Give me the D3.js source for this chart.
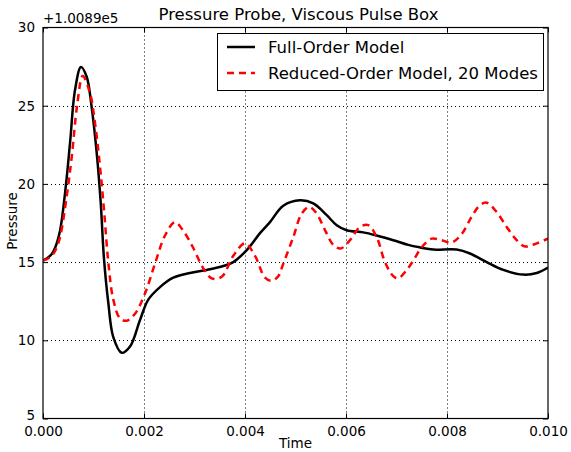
<!DOCTYPE html>
<html><head><meta charset="utf-8">
<script src="https://cdn.jsdelivr.net/npm/d3@7"></script>
<style>
body{margin:0;background:#fff;}
text{font-family:"DejaVu Sans",sans-serif;fill:#000;}
</style></head><body>
<svg id="c" width="571" height="452"></svg>
<script>
const title = "Pressure Probe, Viscous Pulse Box";
const xLabel = "Time";
const yLabel = "Pressure";
const yOffsetLabel = "+1.0089e5";
const xTicks = [0, 0.002, 0.004, 0.006, 0.008, 0.010];
const xTickLabels = ["0.000","0.002","0.004","0.006","0.008","0.010"];
const yTicks = [5, 10, 15, 20, 25, 30];
const seriesNames = ["Full-Order Model", "Reduced-Order Model, 20 Modes"];

const fullTime = [0,0.0001,0.00017,0.000238,0.000337,0.000436,0.000535,0.000634,0.000752,0.000865,0.000964,0.001063,0.001143,0.001208,0.001293,0.001392,0.001558,0.001723,0.001921,0.002085,0.002317,0.00258,0.002911,0.003242,0.00357,0.003768,0.004034,0.004297,0.004495,0.004758,0.005089,0.005352,0.005618,0.005816,0.006014,0.006343,0.006608,0.006937,0.007234,0.007465,0.007729,0.008192,0.008455,0.008786,0.009115,0.009511,0.009776,0.01];
const fullPressure = [15.1,15.3,15.5,15.9,17.0,19.4,22.6,26.0,27.48,26.85,24.9,22.0,18.8,15.2,12.4,10.2,9.2,9.6,11.3,12.6,13.4,14.0,14.3,14.5,14.75,15.0,15.77,16.85,17.56,18.6,18.95,18.75,18.0,17.36,17.04,16.9,16.7,16.4,16.1,15.94,15.8,15.8,15.55,15.0,14.5,14.2,14.3,14.65];

const romTime = [0,0.000139,0.000238,0.000337,0.000469,0.000568,0.000679,0.000786,0.000931,0.00103,0.001129,0.001214,0.001293,0.001392,0.001525,0.001657,0.001822,0.00202,0.002218,0.002416,0.002614,0.002778,0.002976,0.003174,0.003341,0.003539,0.003768,0.004,0.004198,0.004396,0.004529,0.004659,0.004758,0.004956,0.005123,0.005273,0.00542,0.005584,0.005749,0.005895,0.006079,0.006277,0.006442,0.006608,0.006772,0.006937,0.007036,0.007202,0.007333,0.007499,0.007697,0.007895,0.008093,0.008291,0.008489,0.008653,0.008786,0.008984,0.009182,0.00938,0.009545,0.009776,0.01];
const romPressure = [15.1,15.3,15.7,16.6,19.2,21.7,25.1,26.9,25.8,23.9,21.1,18.1,15.0,12.6,11.4,11.25,11.7,13.0,14.9,16.7,17.55,17.0,15.9,14.6,13.96,14.06,15.4,16.2,15.4,14.0,13.8,14.1,14.9,16.6,18.1,18.53,18.1,17.05,16.1,15.87,16.4,17.25,17.36,16.6,15.0,14.1,13.96,14.5,15.1,15.95,16.5,16.4,16.25,16.8,17.9,18.64,18.8,18.2,17.25,16.4,16.0,16.2,16.5];

const svg = d3.select("#c");
const m = {left:43, right:23, top:27.5, bottom:33.5};
const W = 571, H = 452;
const iw = W - m.left - m.right, ih = H - m.top - m.bottom;
const x = d3.scaleLinear().domain([0, 0.01]).range([m.left, m.left + iw]);
const y = d3.scaleLinear().domain([5, 30]).range([m.top + ih, m.top]);

const g = svg.append("g");
g.selectAll(".vg").data(xTicks.slice(1, -1)).join("line")
  .attr("x1", d => Math.round(x(d)) + 0.5).attr("x2", d => Math.round(x(d)) + 0.5)
  .attr("y1", m.top).attr("y2", m.top + ih)
  .attr("stroke", "#000").attr("stroke-width", 1).attr("stroke-dasharray", "1,3");
g.selectAll(".hg").data(yTicks.slice(1, -1)).join("line")
  .attr("y1", d => Math.round(y(d)) + 0.5).attr("y2", d => Math.round(y(d)) + 0.5)
  .attr("x1", m.left).attr("x2", m.left + iw)
  .attr("stroke", "#000").attr("stroke-width", 1).attr("stroke-dasharray", "1,3");

svg.append("clipPath").attr("id", "clip").append("rect")
  .attr("x", m.left).attr("y", m.top).attr("width", iw).attr("height", ih);

const line = d3.line().curve(d3.curveCatmullRom.alpha(0.5)).x(d => x(d[0])).y(d => y(d[1]));
const fullData = fullTime.map((t, i) => [t, fullPressure[i]]);
const romData = romTime.map((t, i) => [t, romPressure[i]]);

svg.append("path").attr("clip-path", "url(#clip)").datum(fullData).attr("d", line)
  .attr("fill", "none").attr("stroke", "#000").attr("stroke-width", 2.5);
svg.append("path").attr("clip-path", "url(#clip)").datum(romData).attr("d", line)
  .attr("fill", "none").attr("stroke", "#ff0000").attr("stroke-width", 2.5).attr("stroke-dasharray", "7,5");

const fmtX = d => xTickLabels[xTicks.indexOf(d)];
const xb = svg.append("g").attr("transform", `translate(0,${m.top + ih})`)
  .call(d3.axisBottom(x).tickValues(xTicks).tickFormat(fmtX).tickSizeInner(-5).tickSizeOuter(0).tickPadding(8));
const xt = svg.append("g").attr("transform", `translate(0,${m.top})`)
  .call(d3.axisTop(x).tickValues(xTicks).tickFormat("").tickSizeInner(-5).tickSizeOuter(0));
const yl = svg.append("g").attr("transform", `translate(${m.left},0)`)
  .call(d3.axisLeft(y).tickValues(yTicks).tickFormat(d3.format("d")).tickSizeInner(-5).tickSizeOuter(0).tickPadding(8));
const yr = svg.append("g").attr("transform", `translate(${m.left + iw},0)`)
  .call(d3.axisRight(y).tickValues(yTicks).tickFormat("").tickSizeInner(-5).tickSizeOuter(0));
[xb, xt, yl, yr].forEach(a => {
  a.select(".domain").remove();
  a.selectAll("text").style("font-size", "13.5px").attr("fill", "#000");
  a.selectAll("line").attr("stroke", "#000");
});
// nudge the lowest y label up slightly so it clears the first x label
yl.selectAll(".tick").filter(d => d === yTicks[0]).select("text").attr("dy", "0.05em");

svg.append("rect").attr("x", m.left).attr("y", m.top).attr("width", iw).attr("height", ih)
  .attr("fill", "none").attr("stroke", "#000").attr("stroke-width", 1.2);

svg.append("text").attr("x", 298.5).attr("y", 20).attr("text-anchor", "middle")
  .style("font-size", "16.5px").text(title);
svg.append("text").attr("x", m.left + iw / 2).attr("y", 448).attr("text-anchor", "middle")
  .style("font-size", "13.5px").text(xLabel);
svg.append("text").attr("transform", `translate(17,221) rotate(-90)`).attr("text-anchor", "middle")
  .style("font-size", "13.5px").text(yLabel);
svg.append("text").attr("x", m.left).attr("y", 23).style("font-size", "13.5px").text(yOffsetLabel);

const lg = svg.append("g");
lg.append("rect").attr("x", 217.5).attr("y", 33.5).attr("width", 326).attr("height", 57)
  .attr("fill", "#fff").attr("stroke", "#000").attr("stroke-width", 1);
const rows = [{name: seriesNames[0], color: "#000", dash: null, cy: 47},
              {name: seriesNames[1], color: "#ff0000", dash: "7,5", cy: 73}];
rows.forEach(r => {
  lg.append("line").attr("x1", 227).attr("x2", 255).attr("y1", r.cy).attr("y2", r.cy)
    .attr("stroke", r.color).attr("stroke-width", 2.5).attr("stroke-dasharray", r.dash);
  lg.append("text").attr("x", 268).attr("y", r.cy).attr("dy", "0.35em")
    .style("font-size", "16.5px").text(r.name);
});
</script>
</body></html>
